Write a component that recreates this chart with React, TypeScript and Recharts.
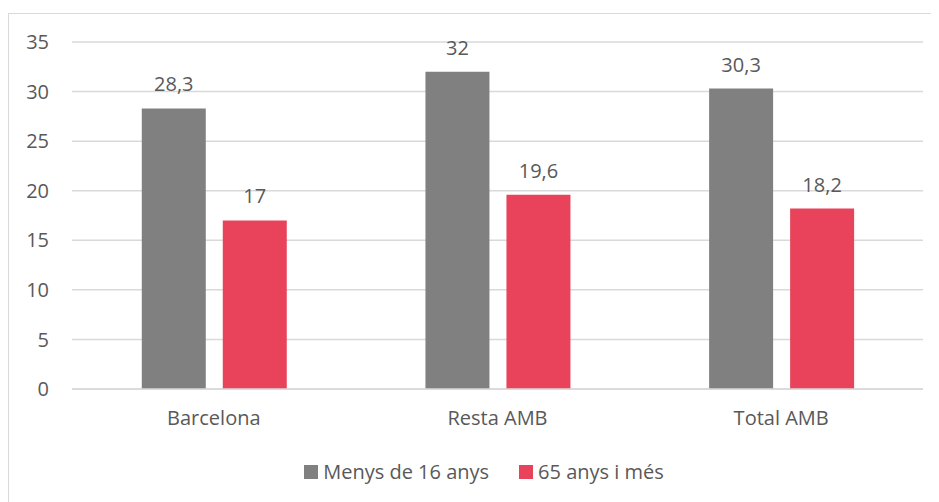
import { BarChart, Bar, XAxis, YAxis, CartesianGrid, Legend, LabelList } from 'recharts';

const categories = ['Barcelona', 'Resta AMB', 'Total AMB'];
const menys16 = [28.3, 32, 30.3];
const anys65 = [17, 19.6, 18.2];
const yTicks = [0, 5, 10, 15, 20, 25, 30, 35];
const seriesNames = ['Menys de 16 anys', '65 anys i més'];
const seriesColors = ['#808080', '#e8435a'];

const data = categories.map((c, i) => ({ name: c, menys16: menys16[i], anys65: anys65[i] }));

const FONT = "'Open Sans', 'Noto Sans', sans-serif";
const TEXT = '#595959';
const FS = 20;

// decimals with comma, like the original (catalan)
const fmt = (v: any) => String(v).replace('.', ',');

function LegendBox() {
  return (
    <div style={{ display: 'flex', justifyContent: 'center', paddingLeft: 21, fontSize: FS, color: TEXT, fontFamily: FONT }}>
      {seriesNames.map((n, i) => (
        <div key={n} style={{ display: 'flex', alignItems: 'center', marginRight: i === 0 ? 30 : 0 }}>
          <span style={{ width: 14, height: 14, background: seriesColors[i], marginRight: 5, display: 'inline-block' }} />
          <span>{n}</span>
        </div>
      ))}
    </div>
  );
}

export default function App() {
  return (
    <div style={{ position: 'relative', width: 931, height: 494, fontFamily: FONT }}>
      <div
        style={{
          position: 'absolute',
          left: 0,
          top: 5,
          width: 930,
          height: 488,
          borderLeft: '1px solid #d9d9d9',
          borderTop: '1px solid #d9d9d9',
        }}
      />
      <BarChart
        width={931}
        height={494}
        data={data}
        margin={{ top: 34, right: 16, bottom: 0, left: 0 }}
        barCategoryGap="24.6%"
        barGap={17}
      >
        <CartesianGrid vertical={false} stroke="#d9d9d9" strokeWidth={1.5} />
        <YAxis
          width={64}
          domain={[0, 35]}
          ticks={yTicks}
          axisLine={false}
          tickLine={false}
          tickSize={0}
          tickMargin={23}
          tick={{ fontSize: FS, fill: TEXT, fontFamily: FONT }}
        />
        <XAxis
          dataKey="name"
          height={85}
          axisLine={{ stroke: '#d9d9d9', strokeWidth: 1.5 }}
          tickLine={false}
          tickSize={0}
          tickMargin={22}
          tick={{ fontSize: FS, fill: TEXT, fontFamily: FONT }}
        />
        <Legend verticalAlign="bottom" content={<LegendBox />} wrapperStyle={{ top: 450, left: 0, width: 931, height: 28 }} />
        <Bar dataKey="menys16" name={seriesNames[0]} fill={seriesColors[0]} isAnimationActive={false}>
          <LabelList dataKey="menys16" position="top" offset={17} formatter={fmt} style={{ fontSize: FS, fill: TEXT, fontFamily: FONT }} />
        </Bar>
        <Bar dataKey="anys65" name={seriesNames[1]} fill={seriesColors[1]} isAnimationActive={false}>
          <LabelList dataKey="anys65" position="top" offset={17} formatter={fmt} style={{ fontSize: FS, fill: TEXT, fontFamily: FONT }} />
        </Bar>
      </BarChart>
    </div>
  );
}
